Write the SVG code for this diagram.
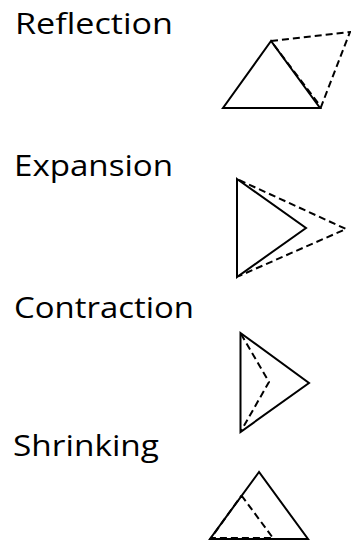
<svg xmlns="http://www.w3.org/2000/svg" width="351" height="541" viewBox="0 0 351 541">
<style>
.lbl{font-family:"Open Sans","Liberation Sans",sans-serif;font-size:30px;fill:#000}
.s{fill:none;stroke:#000;stroke-width:2;stroke-linejoin:miter}
.d{fill:none;stroke:#000;stroke-width:2;stroke-dasharray:7,4}
</style>
<rect width="351" height="541" fill="#fff"/>
<g id="reflection">
<text class="lbl" x="15" y="33.5" textLength="158" lengthAdjust="spacingAndGlyphs">Reflection</text>
<polygon class="s" points="271,41 223,108 320,108"/>
<polyline class="d" points="271,41 350,32 321,107 271,41"/>
</g>
<g id="expansion">
<text class="lbl" x="14" y="176" textLength="159" lengthAdjust="spacingAndGlyphs">Expansion</text>
<polygon class="s" points="237,179 306,228 237,277"/>
<polyline class="d" points="239,180 346,229 239,276"/>
</g>
<g id="contraction">
<text class="lbl" x="14" y="317.5" textLength="180" lengthAdjust="spacingAndGlyphs">Contraction</text>
<polygon class="s" points="240.5,333 309,383 240.5,432"/>
<polyline class="d" points="241,334 269,382 241,431"/>
</g>
<g id="shrinking">
<text class="lbl" x="13" y="456" textLength="146" lengthAdjust="spacingAndGlyphs">Shrinking</text>
<polygon class="s" points="259,472 210,539 308,539"/>
<polyline class="d" points="241.5,495.5 273,538 211,538 241.5,495.5"/>
</g>
</svg>
